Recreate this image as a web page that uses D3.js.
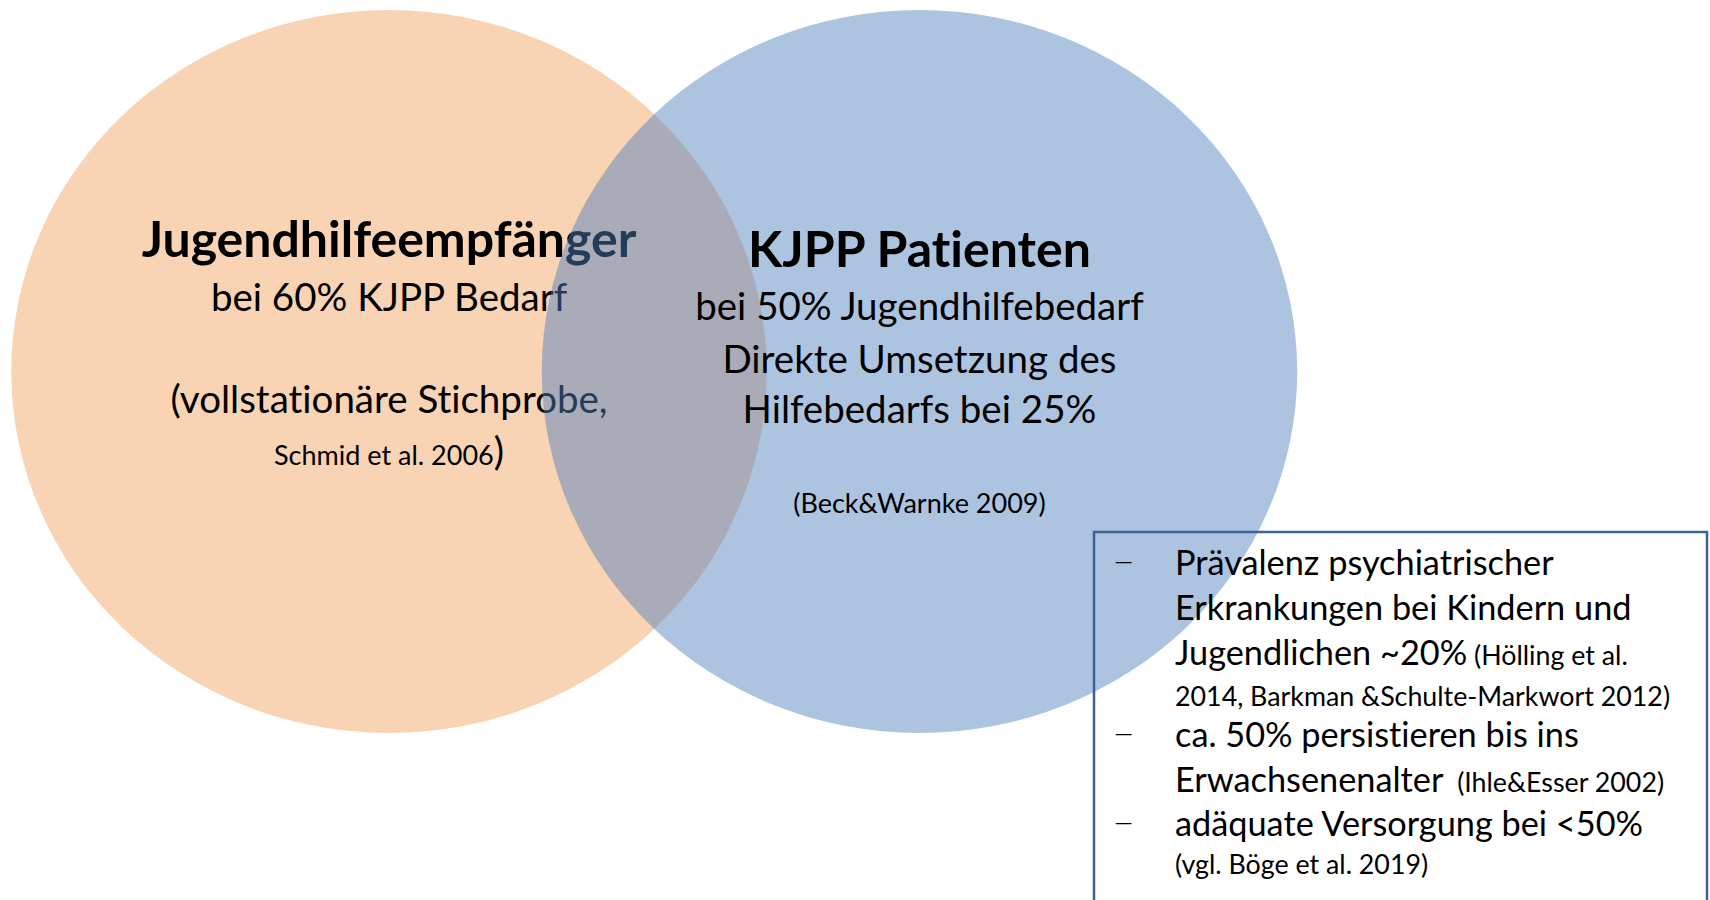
<!DOCTYPE html>
<html>
<head>
<meta charset="utf-8">
<script src="https://cdn.jsdelivr.net/npm/d3@7"></script>
<style>
  html, body { margin: 0; padding: 0; background: #ffffff; }
  svg { display: block; }
  text { font-family: Lato, "Open Sans", "Noto Sans", sans-serif; fill: #000;
         font-variant-ligatures: none; font-feature-settings: "liga" 0, "clig" 0; }
</style>
</head>
<body>
<svg id="chart" width="1710" height="900"></svg>
<script>
// ---------------- data ----------------
const setNames = ["Jugendhilfeempfänger", "KJPP Patienten"];
const setColors = ["#F8D3B4", "#4F81BD"];
const setOpacity = [1, 0.465];

const leftLines = [
  [{ t: "Jugendhilfeempfänger", s: "title" }],
  [{ t: "bei 60% KJPP Bedarf", s: "main" }],
  [{ t: "(vollstationäre Stichprobe,", s: "main" }],
  [{ t: "Schmid et al. 2006", s: "small" }, { t: ")", s: "main" }]
];
const rightLines = [
  [{ t: "KJPP Patienten", s: "title" }],
  [{ t: "bei 50% Jugendhilfebedarf", s: "main" }],
  [{ t: "Direkte Umsetzung des", s: "main" }],
  [{ t: "Hilfebedarfs bei 25%", s: "main" }],
  [{ t: "(Beck&Warnke 2009)", s: "small" }]
];
const boxLines = [
  { dash: true,  parts: [{ t: "Prävalenz psychiatrischer", s: "boxL" }] },
  { dash: false, parts: [{ t: "Erkrankungen bei Kindern und", s: "boxL" }] },
  { dash: false, parts: [{ t: "Jugendlichen ~20%", s: "boxL" }, { t: " (Hölling et al.", s: "boxS" }] },
  { dash: false, parts: [{ t: "2014, Barkman &Schulte-Markwort 2012)", s: "boxS" }] },
  { dash: true,  parts: [{ t: "ca. 50% persistieren bis ins", s: "boxL" }] },
  { dash: false, parts: [{ t: "Erwachsenenalter", s: "boxL" }, { t: "  (Ihle&Esser 2002)", s: "boxS" }] },
  { dash: true,  parts: [{ t: "adäquate Versorgung bei <50%", s: "boxL" }] },
  { dash: false, parts: [{ t: "(vgl. Böge et al. 2019)", s: "boxS" }] }
];

// ---------------- layout ----------------
const W = 1710, H = 900;
const styles = {
  title: { size: 50, weight: 700 },
  main:  { size: 38.5, weight: 400 },
  small: { size: 27, weight: 400 },
  boxL:  { size: 34.3, weight: 400 },
  boxS:  { size: 26.8, weight: 400 }
};

// Venn geometry in abstract units mapped through scales
const x = d3.scaleLinear().domain([0, 100]).range([0, W]);
const y = d3.scaleLinear().domain([0, 100]).range([0, H]);
const circleCX = [22.75, 53.77];   // % of width
const circleCY = 41.28;            // % of height
const circleRX = 22.09;            // % of width
const circleRY = 40.17;            // % of height

const leftBaselines  = [257, 311, 413, 465];
const rightBaselines = [267, 320, 373, 423, 513];
const boxBaselines   = [575, 620, 665, 706, 747, 792, 836, 874];
const box = { x0: 1094, y0: 532, x1: 1707, y1: 940 };
const boxTextX = 1175, boxDashX = 1112;

const svg = d3.select("#chart");
svg.append("rect").attr("width", W).attr("height", H).attr("fill", "#fff");

function drawLines(g, lines, baselines, cx) {
  lines.forEach((parts, i) => {
    const t = g.append("text")
      .attr("x", cx).attr("y", baselines[i])
      .attr("text-anchor", "middle");
    parts.forEach(p => {
      t.append("tspan")
        .attr("font-size", styles[p.s].size)
        .attr("font-weight", styles[p.s].weight)
        .text(p.t);
    });
  });
}

// left set
svg.append("ellipse")
  .attr("cx", x(circleCX[0])).attr("cy", y(circleCY))
  .attr("rx", x(circleRX)).attr("ry", y(circleRY))
  .attr("fill", setColors[0]).attr("fill-opacity", setOpacity[0]);
drawLines(svg.append("g"), leftLines, leftBaselines, x(circleCX[0]));

// right set (translucent, drawn over left text)
svg.append("ellipse")
  .attr("cx", x(circleCX[1])).attr("cy", y(circleCY))
  .attr("rx", x(circleRX)).attr("ry", y(circleRY))
  .attr("fill", setColors[1]).attr("fill-opacity", setOpacity[1]);
drawLines(svg.append("g"), rightLines, rightBaselines, x(circleCX[1]));

// info box
svg.append("path")
  .attr("d", `M${box.x0},${box.y1} L${box.x0},${box.y0} L${box.x1},${box.y0} L${box.x1},${box.y1}`)
  .attr("fill", "none").attr("stroke", "#3F6296").attr("stroke-width", 2.5);

const bg = svg.append("g");
boxLines.forEach((ln, i) => {
  if (ln.dash) {
    bg.append("text").attr("x", boxDashX).attr("y", boxBaselines[i] - 1)
      .attr("font-size", 40).attr("font-weight", 300).text("–");
  }
  const t = bg.append("text").attr("x", boxTextX).attr("y", boxBaselines[i]);
  ln.parts.forEach(p => {
    t.append("tspan")
      .attr("font-size", styles[p.s].size)
      .attr("font-weight", styles[p.s].weight)
      .style("white-space", "pre")
      .text(p.t);
  });
});
</script>
</body>
</html>
